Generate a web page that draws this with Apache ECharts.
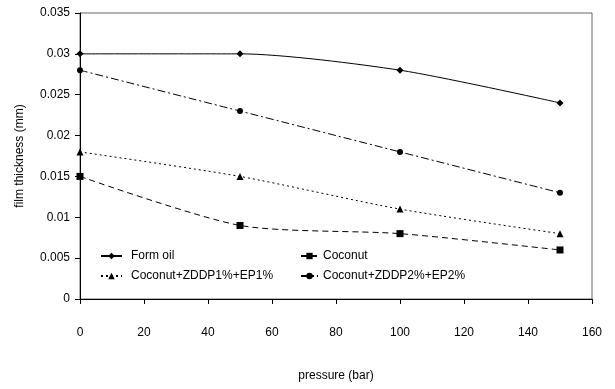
<!DOCTYPE html>
<html><head><meta charset="utf-8">
<script src="https://cdn.jsdelivr.net/npm/echarts@6/dist/echarts.min.js"></script>
<style>html,body{margin:0;padding:0;background:#fff}#c{width:615px;height:389px}</style>
</head><body><div id="c"></div>
<script>
const pressure = [0, 50, 100, 150];
const formOil = [0.030, 0.030, 0.028, 0.024];
const coconut = [0.015, 0.009, 0.008, 0.006];
const zddp1 = [0.018, 0.015, 0.011, 0.008];
const zddp2 = [0.028, 0.023, 0.018, 0.013];
const names = ['Form oil', 'Coconut', 'Coconut+ZDDP1%+EP1%', 'Coconut+ZDDP2%+EP2%'];

const pair = arr => pressure.map((p, i) => [p, arr[i]]);
const font = 'Liberation Sans, Arial, sans-serif';
const chart = echarts.init(document.getElementById('c'), null, {renderer: 'canvas'});
function s(name, data, symbol, size, type) {
  return {
    name, type: 'line', data: pair(data), smooth: 0.25, symbol, symbolSize: size,
    itemStyle: {color: '#000'},
    lineStyle: {color: '#000', width: 1, type},
    emphasis: {disabled: true}
  };
}
const legendCommon = {
  orient: 'vertical', itemHeight: 8, itemGap: 8,
  textStyle: {fontFamily: font, fontSize: 12, color: '#000'}
};
chart.setOption({
  animation: false,
  grid: {left: 80, right: 23, top: 13, bottom: 90, show: true, borderColor: '#666', borderWidth: 1},
  legend: [
    Object.assign({data: [names[0], names[2]], left: 95, top: 245, itemWidth: 21}, legendCommon,
      {textStyle: {fontFamily: font, fontSize: 12, color: '#000', padding: [0, 0, 0, 4]}}),
    Object.assign({data: [names[1], names[3]], left: 295, top: 245, itemWidth: 17}, legendCommon)
  ],
  xAxis: {
    type: 'value', min: 0, max: 160, interval: 20,
    name: 'pressure (bar)', nameLocation: 'middle', nameGap: 71,
    nameTextStyle: {fontFamily: font, fontSize: 12, color: '#000'},
    axisLine: {lineStyle: {color: '#000'}},
    axisTick: {show: true, length: 5, lineStyle: {color: '#000'}},
    axisLabel: {margin: 28, fontFamily: font, fontSize: 12, color: '#000'},
    splitLine: {show: false}
  },
  yAxis: {
    type: 'value', min: 0, max: 0.035, interval: 0.005,
    name: 'film thickness (mm)', nameLocation: 'middle', nameGap: 54,
    nameTextStyle: {fontFamily: font, fontSize: 12, color: '#000'},
    axisLine: {show: true, lineStyle: {color: '#000'}},
    axisTick: {show: true, length: 5, lineStyle: {color: '#000'}},
    axisLabel: {margin: 10, fontFamily: font, fontSize: 12, color: '#000',
      formatter: v => String(parseFloat(v.toFixed(3)))},
    splitLine: {show: false}
  },
  series: [
    s(names[0], formOil, 'diamond', 7, 'solid'),
    s(names[1], coconut, 'rect', 7, [6, 4]),
    s(names[2], zddp1, 'triangle', 7, [2, 3]),
    s(names[3], zddp2, 'circle', 6, [8, 3, 2, 3])
  ]
});
</script></body></html>
